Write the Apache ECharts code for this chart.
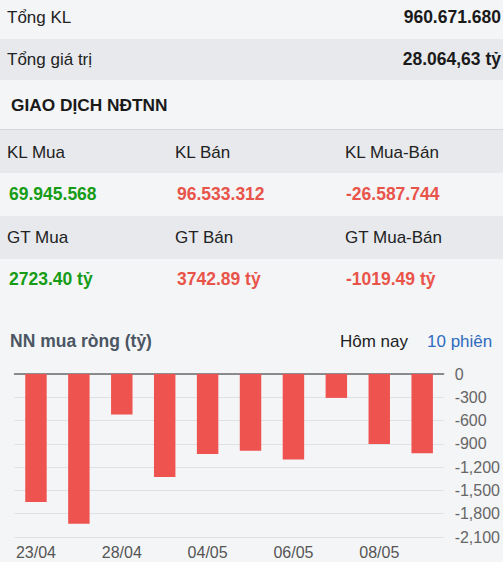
<!DOCTYPE html>
<html><head><meta charset="utf-8">
<script src="https://cdn.jsdelivr.net/npm/echarts@6/dist/echarts.min.js"></script>
<style>html,body{margin:0;padding:0;background:#f4f5f7;overflow:hidden}#c{width:503px;height:562px}</style>
</head><body><div id="c"></div>
<script>
// ---- data ----
const summaryLabels = ['Tổng KL', 'Tổng giá trị'];
const summaryValues = ['960.671.680', '28.064,63 tỷ'];
const sectionTitle = 'GIAO DỊCH NĐTNN';
const volHeaders = ['KL Mua', 'KL Bán', 'KL Mua-Bán'];
const volValues = ['69.945.568', '96.533.312', '-26.587.744'];
const valHeaders = ['GT Mua', 'GT Bán', 'GT Mua-Bán'];
const valValues = ['2723.40 tỷ', '3742.89 tỷ', '-1019.49 tỷ'];
const chartTitle = 'NN mua ròng (tỷ)';
const tabLabels = ['Hôm nay', '10 phiên'];
const categories = ['23/04', '24/04', '28/04', '29/04', '04/05', '05/05', '06/05', '07/05', '08/05', '09/05'];
const netBuy = [-1650, -1930, -522, -1327, -1030, -990, -1100, -308, -902, -1019.49];
const yMin = -2100, yMax = 0, yStep = 300;

// ---- styles ----
const FONT = 'Liberation Sans, Arial, sans-serif';
const LIGHT = '#f4f5f7', DARK = '#e7e9ed';
const GREEN = '#169c16', RED = '#e9544a', TEXT = '#222222';
const valueColors = [GREEN, RED, RED];
const colX = [7, 175, 345];
const valX = [9, 177, 346];
const BOLD = 'bold 17.5px ' + FONT;

const g = [];
function rect(y, h, fill) { g.push({type: 'rect', shape: {x: 0, y: y, width: 503, height: h}, style: {fill: fill}, silent: true}); }
function text(x, y, s, opt) {
  g.push({type: 'text', x: x, y: y, silent: true, style: Object.assign({text: s, fill: TEXT, font: '17px ' + FONT, textVerticalAlign: 'middle', textAlign: 'left'}, opt || {})});
}
rect(0, 39, LIGHT);
rect(39, 41, DARK);
rect(80, 49, LIGHT);
rect(129, 1, '#d3d6db');
rect(130, 43, DARK);
rect(173, 43, LIGHT);
rect(216, 43, DARK);
rect(259, 303, LIGHT);

const sumY = [17, 59];
summaryLabels.forEach((s, i) => {
  text(7, sumY[i], s);
  text(501, sumY[i], summaryValues[i], {textAlign: 'right', font: BOLD, fill: '#1a1a1a'});
});
text(11, 105, sectionTitle, {font: 'bold 17.3px ' + FONT, fill: '#1a1a1a'});
volHeaders.forEach((s, i) => text(colX[i], 152, s));
volValues.forEach((s, i) => text(valX[i], 194, s, {font: BOLD, fill: valueColors[i]}));
valHeaders.forEach((s, i) => text(colX[i], 237, s));
valValues.forEach((s, i) => text(valX[i], 279, s, {font: BOLD, fill: valueColors[i]}));
text(10, 341, chartTitle, {font: 'bold 17.5px ' + FONT, fill: '#4b5563'});
text(340, 341, tabLabels[0], {fill: '#222222'});
text(427, 341, tabLabels[1], {fill: '#2e6bc0'});

const chart = echarts.init(document.getElementById('c'), null, {renderer: 'svg'});
chart.setOption({
  backgroundColor: LIGHT,
  animation: false,
  graphic: g,
  grid: {left: 14.5, right: 54, top: 374, height: 163},
  xAxis: [{
    type: 'category', data: categories, position: 'bottom',
    axisLine: {show: false, onZero: false}, axisTick: {show: false},
    axisLabel: {interval: 1, color: '#555', fontSize: 16, fontFamily: FONT, margin: 7}
  }, {
    type: 'category', data: categories, position: 'top',
    axisLine: {show: true, onZero: false, lineStyle: {color: '#6b6b6b', width: 1.5}},
    axisTick: {show: false}, axisLabel: {show: false}
  }],
  yAxis: {
    type: 'value', position: 'right', min: yMin, max: yMax, interval: yStep,
    axisLine: {show: false}, axisTick: {show: false},
    splitLine: {lineStyle: {color: '#dfe1e4', width: 1}},
    axisLabel: {color: '#666', fontSize: 16, fontFamily: FONT, margin: 11,
      formatter: v => v.toLocaleString('en-US')}
  },
  series: [{
    type: 'bar', data: netBuy, barWidth: '50%', xAxisIndex: 0,
    itemStyle: {color: '#ef5350'}
  }]
});
</script></body></html>
